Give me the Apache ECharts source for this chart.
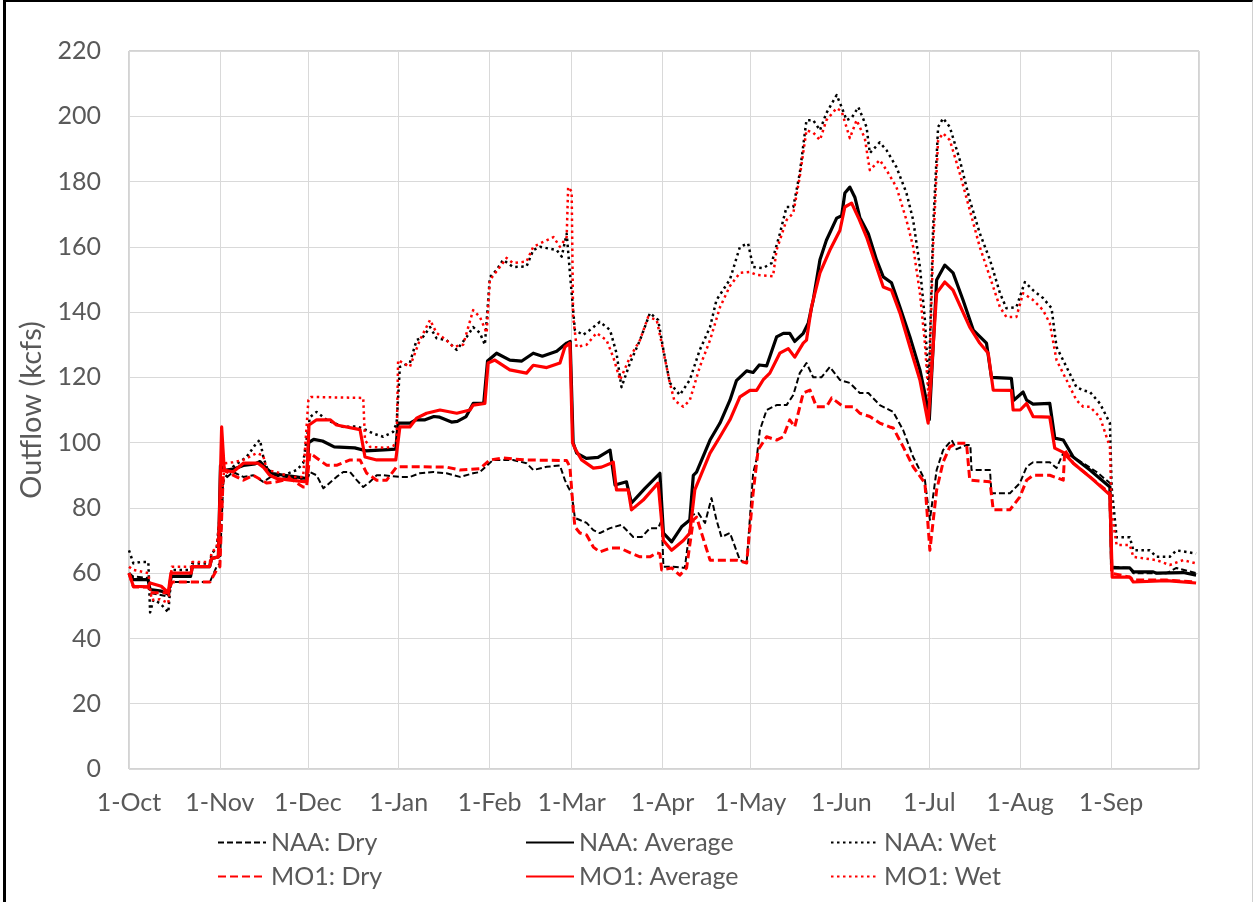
<!DOCTYPE html>
<html>
<head>
<meta charset="utf-8">
<title>Outflow</title>
<script src="https://cdn.jsdelivr.net/npm/echarts@6/dist/echarts.min.js"></script>
<style>
  html, body { margin: 0; padding: 0; background: #fff; }
  #wrap { position: relative; width: 1255px; height: 902px; }
  #chart { width: 1255px; height: 902px; }
  #frame {
    position: absolute; left: 3px; top: 0; width: 1250px; height: 902px;
    border-left: 3px solid #000; border-top: 2px solid #000;
    border-right: 1px solid #d0d0d0; box-sizing: border-box; pointer-events: none;
  }
</style>
</head>
<body>
<div id="wrap">
  <div id="chart"></div>
  <div id="frame"></div>
</div>
<script>
// x = days after 1-Oct, y = outflow (kcfs)
const monthLabels = ['1-Oct', '1-Nov', '1-Dec', '1-Jan', '1-Feb', '1-Mar', '1-Apr', '1-May', '1-Jun', '1-Jul', '1-Aug', '1-Sep']

const naaDry = [[0,60],[1.5,59],[6.6,58.5],[7.2,54],[13.4,52.8],[14.6,57.3],[27.6,57.3],[29.9,62],[31,63],[32.2,88.5],[35.5,91],[39,89.5],[42.4,90],[45.8,88],[49.2,90],[53.8,89.5],[57.2,89],[60.6,88],[61.7,91],[64,90],[66.3,86],[70.8,89.5],[73.1,91],[75.4,91],[77.7,88.5],[79.9,86.4],[82.2,88],[84.5,90],[86.7,90],[92.4,89.5],[95.8,89.5],[99.2,90.6],[103.8,91],[108.3,90.6],[112.9,89.5],[117.4,90.6],[119.7,91],[124.2,94.7],[131,94.7],[135.6,93.7],[137.9,91.6],[142.5,92.6],[147,93],[148.7,88.5],[149.8,86.4],[151,84.5],[152.1,76.9],[153.8,76.3],[156.1,75.4],[158.4,73.2],[160.6,72.3],[164.1,73.8],[168,74.8],[172,71.1],[174.9,71.1],[177.7,73.8],[180.5,73.8],[181.7,76.3],[182.3,62],[185.6,62],[189.6,61.6],[191.9,77.8],[194.2,78.4],[196.5,75.4],[198.7,83],[200.4,76.3],[202.1,71.1],[205,72.3],[208.4,64],[210.7,63.1],[212.9,90.6],[214.1,95],[215.2,103.8],[217.5,110],[220.9,111.5],[224.3,111.5],[226.6,114.6],[228.8,121.3],[231.1,124.4],[233.4,120],[236.2,120],[239.1,123.2],[242.5,119.2],[245.9,118.3],[249.3,115.2],[252.2,115.2],[256.1,111.5],[260.7,109.4],[264.1,103.8],[267.5,95.6],[271.5,88.5],[273.2,76.3],[275.5,91.6],[277.7,97.7],[280.6,100.8],[282.3,98],[285.7,99.3],[287,99.3],[287.4,91.6],[293.7,91.6],[294.2,84.5],[300.5,84.5],[303.9,87.6],[306.2,92.6],[308.4,94],[314.1,94],[316.4,92.2],[318.7,96.8],[322.1,95.6],[325.5,93.7],[330.1,91],[334.6,87.6],[335.2,62],[341.4,61.6],[342.6,60],[353.9,60],[357.3,61.6],[364,60]]

const naaAvg = [[0,60],[1.5,58],[6.5,58],[7.2,55],[11,54.5],[13.5,53.5],[14.3,59],[21,59],[21.6,62],[27.5,62],[28.2,64.5],[30.5,65],[31.2,93],[32.5,91.5],[36,92],[39,93],[43,93.5],[44.7,94.2],[47,92],[49,90.5],[53,90],[57,89.5],[60.6,89],[61.3,100],[63,101],[66,100.5],[70,98.7],[77,98.4],[80.8,97.5],[81.2,97],[87,97.8],[91,98],[91.8,106],[95.8,106],[98,107],[101,107],[104,108],[106,107.8],[110,106.3],[112,106.5],[115,108],[117.4,112],[121,112],[122.3,125],[125.4,127.4],[129.9,125.3],[134,125],[137.9,127.4],[141,126.5],[145.9,128],[149.3,130.5],[150.5,131],[151.5,100],[152.7,96.8],[156,95.2],[160,95.5],[164.1,97.7],[165.8,87],[169.7,88],[171.4,81.5],[176,86],[181.1,90.6],[182.3,72.3],[185.1,69.6],[188.5,74.2],[191.3,76.3],[192.5,90],[193.6,91],[198.2,100.8],[201.6,106],[205,113],[207.2,119],[210.7,122],[212.9,121.5],[215,123.8],[217.5,123.5],[220.9,132.4],[223.2,133.5],[225.4,133.5],[227.1,131],[230,133.5],[231.7,136.6],[233.4,143.7],[235.7,156],[237.9,162],[241.4,168.8],[243.1,169.5],[244.2,176.5],[245.9,178.3],[247.6,175.2],[249.3,169],[252.2,164],[255,156],[257.3,150.8],[260.1,149],[263,141.5],[266.4,132.4],[269.8,122.3],[272,113],[273,107],[275.5,149.8],[278.3,154.4],[281.1,152],[284.5,143.7],[288,134.5],[292.5,130.5],[294.2,120],[301,119.7],[301.8,113],[305,115.5],[306.2,113],[308.4,111.8],[314.1,112],[315.8,101.4],[318.7,100.8],[322.1,95.6],[327.8,91.6],[334.6,86.4],[335.2,61.6],[341.4,61.6],[342.6,60.4],[349.4,60.4],[350.5,60],[359.6,60.2],[364,59.4]]

const naaWet = [[0,67],[1.5,63],[3.8,63.4],[6.6,63.4],[7.2,48],[8.3,51.8],[10.6,50.8],[13.4,48],[14.6,61],[21.4,61],[21.6,63],[27.6,63],[28.2,66],[29.9,67.7],[32.2,88.5],[35.5,92.6],[40.1,95.6],[43.6,100],[44.7,100.8],[45.8,95.6],[48.1,89.5],[52.6,90],[57.2,91.6],[59.4,93.7],[61.7,107.8],[64,109.4],[67.4,107],[73.1,104.8],[77.7,105],[81.1,103.8],[83.3,102.8],[86.7,101.8],[90.1,103.3],[91.3,106],[92.4,123.2],[95.8,124.4],[98.1,131.4],[100.3,132.4],[102.7,135.4],[104.9,132],[108.3,131.4],[111.8,128.4],[115.2,132.4],[117.4,135.4],[119.7,133.6],[121.4,130],[123.1,150.7],[125.4,152.9],[127.6,156],[131,153.8],[135.6,154],[137.9,159],[140.2,160],[145.9,159],[147.6,157],[149.3,164],[150.6,150],[152.1,134.5],[154.9,133],[157.2,134.5],[160.6,137],[164.1,134.5],[166.3,127.4],[168,117],[170.9,124.4],[174.3,131.4],[177.7,139.7],[180.5,137.6],[182.3,128.4],[184.5,118.3],[187.9,114.6],[191.3,119.2],[194.7,128.4],[198.2,135.4],[200.4,143.7],[205,150],[208.4,160],[211.2,161],[212.9,153.8],[216.3,153.5],[219.2,155],[222,164],[224.3,172.2],[226.6,172.2],[228.8,182.5],[231.1,198.8],[233.4,198.8],[235.7,195.7],[237.9,201],[241.4,206.5],[243.1,202.8],[244.8,198.8],[246.5,199.5],[248.8,202.8],[251.6,196.7],[252.7,188.7],[256.1,192],[258.4,189.6],[261.8,184.4],[265.2,176.5],[267.5,168.2],[269.8,153.8],[271.5,137.6],[272.8,117],[274.3,166],[276,196.7],[277.7,199.4],[280,196.7],[283.4,186.6],[286.8,174.3],[290.2,164.2],[293.7,156],[297.1,145.8],[299.3,141.2],[302.7,141.5],[305.6,149.2],[308.4,146.7],[311.8,144.3],[314.7,141.2],[316.4,129.3],[319.8,123.2],[323.2,117],[325.5,116],[327.8,115.5],[331.2,112],[334.6,106],[335.2,86.4],[336.9,71],[341.4,71],[342.6,67],[348.2,67],[350.5,65],[355,65],[357.3,67],[364,66]]

const mo1Dry = [[0,60],[1.5,55.8],[6.6,55.8],[7.2,54],[13.4,54],[14.6,57.3],[27.6,57.3],[29.9,61],[31,62],[32.2,91.6],[36.7,89.5],[39,88.5],[42.4,90],[47,87.6],[50.4,88],[54.9,89],[59.4,86.4],[60.6,86.4],[61.7,96.8],[64,95.3],[67.4,93.1],[71,93.1],[75.4,94.7],[78.8,94.7],[81.1,90.6],[84.5,88.5],[87.9,88.5],[91.3,92.6],[99.2,92.6],[108.3,92.5],[112.9,91.6],[119.7,92],[123.1,94.7],[127.6,95.3],[131,95],[135.6,94.7],[149.3,94.5],[150.4,92.6],[151.5,80],[152.1,74.2],[153.8,72.3],[156.1,71.7],[158.4,68],[160.6,66.5],[164.1,67.7],[167.5,67.7],[170.3,66.5],[174.3,65],[177.7,65],[180,66.2],[181.1,66],[181.7,61],[185.1,61.6],[187.9,59.4],[190.2,61.6],[192.5,76.3],[193.6,77.2],[195.3,72.3],[198.2,64],[207.2,64],[210.7,63.1],[212.9,84.5],[214.6,97.7],[217.5,101.8],[220.9,100.8],[223.2,101.8],[225.4,107],[227.1,104.8],[230,115.2],[232.3,116.1],[234.5,111],[237.9,111],[239.7,113.7],[243.7,111],[247.1,111],[249.3,109],[252.7,108],[256.1,106],[259.5,104.8],[260.7,104.5],[264.1,98.7],[267.5,92.6],[271.5,87.6],[273.2,67],[275.5,85.5],[277.7,94],[280,98.7],[282.3,99.8],[285.7,99.8],[286.8,88.5],[293.7,88],[294.8,79.4],[300.5,79.4],[303.9,83.4],[306.2,88.5],[308.4,90],[314.1,90],[318.7,88.5],[319.2,97.7],[322.1,93.7],[327.8,89.5],[334.6,84.5],[335.2,60],[341.4,58.8],[342.6,57.9],[353.9,57.9],[364,57.3]]

const mo1Avg = [[0,60],[1.5,56],[6.6,55.8],[7.2,57],[11,56],[13.4,54],[14.3,60],[21.2,60],[21.6,62],[27.5,62],[28.2,64.5],[30.5,65],[31.6,104.8],[32.5,91.6],[35.5,91],[39,93.7],[44,93.7],[45.8,92.5],[48,90],[50.4,89],[55,88.5],[60.6,88],[61.4,105.4],[64,107],[68.6,107],[70.8,105.4],[78.8,104],[80.5,95.6],[84.5,94.7],[91,94.7],[92.4,104.8],[95.8,104.8],[98.1,107.5],[101.5,109],[106.1,110],[111.8,109],[116.3,110],[117.4,111.5],[121.4,112],[122.5,124.4],[124.8,125.3],[129.9,122.3],[135.6,121.3],[137.9,123.7],[142.5,123],[147,124.4],[148.7,129.3],[150.4,130.5],[151.3,100],[152.1,98.3],[154.4,94.7],[158.4,92.2],[161.2,92.5],[165.2,94],[166.3,85.5],[170.3,85.5],[171.4,79.4],[175.4,82.4],[180.5,87.6],[182.3,70],[185.1,67],[189.1,70],[191.3,72.3],[193,85.5],[198.2,96.8],[201.6,101.8],[205,107],[208.4,114],[211.8,116],[214.1,116],[216.3,119.2],[218.6,121.3],[222,127.4],[224.9,128.8],[227.1,126.2],[230,130.5],[231.1,131.4],[232.8,141.5],[235.7,152],[239.1,159],[242.5,165],[244.2,172.2],[246.5,173.4],[248.8,169],[251.6,163],[255,153.8],[257.3,147.7],[260.1,146.7],[263,139.7],[266.4,129.3],[269.8,119.2],[272.6,106],[275.5,145.8],[278.3,149.2],[281.1,146.7],[286.8,135.4],[290.2,130.5],[293.1,127.4],[294.8,116.1],[301,116],[301.6,110],[304,110],[306.2,112],[308.4,108],[314.1,107.8],[315.8,98.3],[318.7,97],[322.1,93.7],[327.8,89.5],[334.6,84],[335.4,58.8],[341.4,58.8],[342.6,57.3],[353.9,57.7],[364,57]]

const mo1Wet = [[0,62],[1.5,61],[6.6,60],[7.7,51.8],[10.6,52],[13.4,50.8],[14.6,62],[21.4,62],[21.6,63.4],[27.6,63.4],[28.2,66.5],[29.9,67.7],[32.7,93.7],[35.5,94],[39,94.7],[43.6,96.8],[45.8,96],[47,91.6],[50.4,91],[54.9,89.5],[59.4,89.5],[61.2,113],[62,114],[79.9,113.7],[80.5,100.8],[82.2,98.7],[87.9,98.4],[90.1,99],[91.3,100],[91.8,125.3],[95.8,123.2],[99.2,131.4],[102.7,137.6],[104.9,133.6],[108.3,131.4],[110.6,129.3],[114,130],[117.4,140.6],[119.7,138.5],[122,133.6],[123.1,149.8],[126.5,153.8],[128.8,156.6],[131,155],[135.6,155.5],[137.9,160],[141.3,161.5],[144.8,163],[147,160],[149.3,163],[149.8,178.3],[151,177],[151.5,138.5],[152.7,129.3],[156.1,130],[159.5,133.6],[162.9,131.4],[165.2,126.2],[167.5,119.2],[170.9,126.2],[174.3,131.4],[177.1,138.5],[180,137.6],[182.2,128.4],[184.5,118.3],[186,113],[189.1,111],[191.3,113],[194.7,123.2],[198.2,131.4],[201.6,141.5],[205,148],[208.4,152],[211.8,152.3],[214.1,151.4],[219.7,151],[220.9,159],[224.3,168.2],[226.6,170.3],[228.8,181.4],[231.1,195.7],[233.4,195],[235.7,192.7],[237.9,198.8],[241.4,202.5],[243.1,201.5],[245.9,193.3],[248.2,198.8],[251,193.3],[252.7,183.5],[256.1,186.6],[258.4,183.5],[261.8,178.3],[265.2,168.2],[267.5,160],[269.8,145.8],[271.5,130.5],[272.8,113],[274.3,160],[276,192.7],[277.7,194.8],[280,192.7],[283.4,182.5],[286.8,171.3],[290.2,160],[293.7,150.7],[297.1,141.5],[299.3,138.5],[302.7,138.5],[305,145.8],[308.4,143.7],[311.8,140.6],[314.1,136.6],[316.4,125.3],[319.8,119.2],[323.2,113],[325.5,111],[327.8,111],[331.2,107.8],[334.6,98.7],[335.2,78.4],[336.9,68.6],[341.4,68.6],[342.6,65],[350.5,64],[355,62.5],[359.6,64],[364,63]]

const DAY = 86400000
const t0 = Date.UTC(2020, 9, 1)
const tEnd = t0 + 365 * DAY
const toTime = (arr) => arr.map((p) => [t0 + p[0] * DAY, p[1]])

const chart = echarts.init(document.getElementById('chart'))
const font = 'Lato, "Open Sans", sans-serif'
const grey = '#595959'

function mkSeries(name, data, color, width, type) {
  return {
    name: name,
    type: 'line',
    data: toTime(data),
    symbol: 'none',
    showSymbol: false,
    animation: false,
    lineStyle: { color: color, width: width, type: type, cap: 'butt', join: 'round' },
    itemStyle: { color: color }
  }
}

// one legend box per item so the 3 x 2 layout is fixed
function mkLegend(name, left, top) {
  return {
    data: [name],
    left: left,
    top: top,
    padding: 0,
    itemWidth: 48,
    itemHeight: 14,
    itemStyle: { opacity: 0 }, // hide the circle, keep the line sample
    textStyle: { fontFamily: font, fontSize: 25, color: grey },
    selectedMode: false
  }
}

const option = {
  useUTC: true,
  animation: false,
  backgroundColor: '#fff',
  grid: { left: 129, right: 56, top: 51, bottom: 133, show: true, borderColor: '#a6a6a6', borderWidth: 1 },
  legend: [
    mkLegend('NAA: Dry', 217, 830),
    mkLegend('NAA: Average', 525, 830),
    mkLegend('NAA: Wet', 830, 830),
    mkLegend('MO1: Dry', 217, 864),
    mkLegend('MO1: Average', 525, 864),
    mkLegend('MO1: Wet', 830, 864)
  ],
  xAxis: {
    type: 'time',
    min: t0,
    max: tEnd,
    splitNumber: 12,
    axisLine: { show: false },
    axisTick: { show: false },
    splitLine: { show: true, lineStyle: { color: '#d9d9d9', width: 1 } },
    axisLabel: {
      formatter: function (val) {
        if (val >= tEnd - DAY) return ''
        const m = new Date(val).getUTCMonth()
        return monthLabels[(m + 3) % 12]
      },
      fontFamily: font,
      fontSize: 25,
      color: grey,
      margin: 21
    }
  },
  yAxis: {
    type: 'value',
    min: 0,
    max: 220,
    interval: 20,
    name: 'Outflow (kcfs)',
    nameLocation: 'middle',
    nameGap: 80,
    nameTextStyle: { fontFamily: font, fontSize: 29, color: grey },
    axisLine: { show: false },
    axisTick: { show: false },
    splitLine: { lineStyle: { color: '#d9d9d9', width: 1 } },
    axisLabel: { fontFamily: font, fontSize: 25, color: grey, margin: 28 }
  },
  series: [
    mkSeries('NAA: Dry', naaDry, '#000000', 2, [6, 3]),
    mkSeries('NAA: Average', naaAvg, '#000000', 3.2, 'solid'),
    mkSeries('NAA: Wet', naaWet, '#000000', 2.5, [2.5, 3.5]),
    mkSeries('MO1: Dry', mo1Dry, '#ff0000', 3, [8, 4]),
    mkSeries('MO1: Average', mo1Avg, '#ff0000', 3.2, 'solid'),
    mkSeries('MO1: Wet', mo1Wet, '#ff0000', 2.5, [2.5, 3.5])
  ]
}

chart.setOption(option)
</script>
</body>
</html>
